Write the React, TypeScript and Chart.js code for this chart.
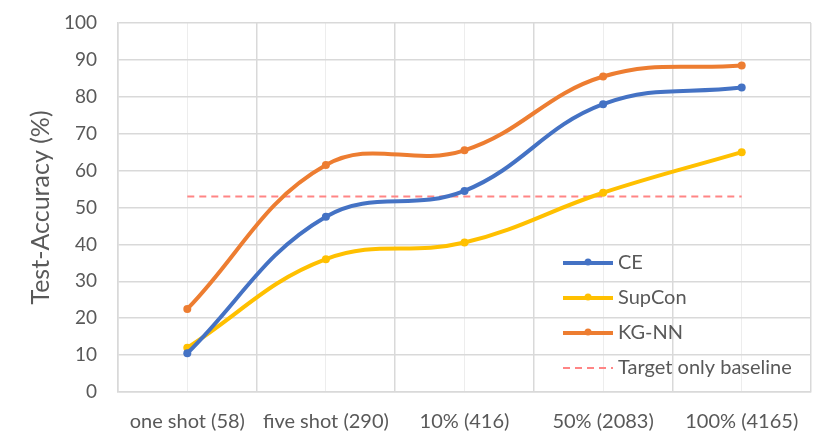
import { useEffect, useRef } from "react";
import { Chart, registerables, Plugin } from "chart.js";

Chart.register(...registerables);

// values
const categories = ["one shot (58)", "five shot (290)", "10% (416)", "50% (2083)", "100% (4165)"];
const ceValues = [10.5, 47.5, 54.5, 78, 82.5];
const supConValues = [12, 36, 40.5, 54, 65];
const kgnnValues = [22.5, 61.5, 65.5, 85.5, 88.5];
const baselineValue = 53;
const yTicks = [0, 10, 20, 30, 40, 50, 60, 70, 80, 90, 100];

const FONT = "Lato, 'Liberation Sans', sans-serif";
const TEXT = "#595959";
const GRID = "#d9d9d9";
const GRID_LIGHT = "#ededed";

const asPoints = (vals: number[]) => vals.map((y, i) => ({ x: i, y }));

const series = [
  { label: "CE", values: ceValues, color: "#4472C4" },
  { label: "SupCon", values: supConValues, color: "#FFC000" },
  { label: "KG-NN", values: kgnnValues, color: "#ED7D31" },
];

// Excel-style legend sitting inside the plot, lower right
const insideLegend: Plugin = {
  id: "insideLegend",
  afterDraw(chart) {
    const { ctx, chartArea } = chart;
    const x0 = chartArea.right - 248;
    const y0 = chartArea.bottom - 129;
    const rowGap = 35;
    ctx.save();
    ctx.font = `20px ${FONT}`;
    ctx.textBaseline = "middle";
    chart.data.datasets.forEach((ds: any, i) => {
      const y = y0 + i * rowGap;
      ctx.strokeStyle = ds.borderColor;
      ctx.lineWidth = ds.borderWidth;
      ctx.setLineDash(ds.borderDash || []);
      ctx.beginPath();
      ctx.moveTo(x0, y);
      ctx.lineTo(x0 + 50, y);
      ctx.stroke();
      ctx.setLineDash([]);
      if (ds.pointRadius > 0) {
        ctx.fillStyle = ds.borderColor;
        ctx.beginPath();
        ctx.arc(x0 + 25, y - 1, 3.5, 0, Math.PI * 2);
        ctx.fill();
      }
      ctx.fillStyle = TEXT;
      ctx.fillText(ds.label, x0 + 55, y);
    });
    ctx.restore();
  },
};

export default function App() {
  const canvasRef = useRef<HTMLCanvasElement | null>(null);

  useEffect(() => {
    document.body.style.margin = "0";
    if (!canvasRef.current) return;
    const chart = new Chart(canvasRef.current, {
      type: "line",
      data: {
        datasets: [
          ...series.map((s) => ({
            label: s.label,
            data: asPoints(s.values),
            borderColor: s.color,
            backgroundColor: s.color,
            borderWidth: 4,
            pointRadius: 4,
            pointBorderWidth: 0,
            tension: 0.4,
            fill: false,
          })),
          {
            label: "Target only baseline",
            data: asPoints(categories.map(() => baselineValue)),
            borderColor: "#FF8585",
            backgroundColor: "#FF8585",
            borderWidth: 2,
            borderDash: [7, 5],
            pointRadius: 0,
            tension: 0,
            fill: false,
          },
        ],
      },
      options: {
        animation: false,
        responsive: false,
        layout: { padding: { top: 23, right: 19, left: 0, bottom: 0 } },
        plugins: { legend: { display: false }, tooltip: { enabled: false } },
        scales: {
          x: {
            type: "linear",
            min: -0.5,
            max: categories.length - 0.5,
            afterBuildTicks: (axis) => {
              const t = [];
              for (let v = -0.5; v <= categories.length - 0.5 + 1e-9; v += 0.5) t.push({ value: v });
              axis.ticks = t;
            },
            afterFit: (axis) => {
              axis.height = 53;
            },
            grid: {
              color: (c) => (Number.isInteger(c.tick?.value) ? GRID_LIGHT : GRID),
              lineWidth: (c) => (Number.isInteger(c.tick?.value) ? 1 : 1.5),
              drawTicks: false,
            },
            border: { color: GRID, width: 1.5 },
            ticks: {
              autoSkip: false,
              maxRotation: 0,
              padding: 18,
              color: TEXT,
              font: { family: FONT, size: 20 },
              callback: (v) => (Number.isInteger(v) ? categories[v as number] : ""),
            },
          },
          y: {
            min: 0,
            max: 100,
            afterBuildTicks: (axis) => {
              axis.ticks = yTicks.map((v) => ({ value: v }));
            },
            afterFit: (axis) => {
              axis.width = 118;
            },
            // invisible tick marks push the labels off the axis line
            grid: { color: GRID, lineWidth: 1.5, drawTicks: true, tickLength: 21, tickColor: "rgba(0,0,0,0)" },
            border: { color: GRID, width: 1.5 },
            ticks: {
              padding: 0,
              color: TEXT,
              font: { family: FONT, size: 19 },
            },
            title: {
              display: true,
              text: "Test-Accuracy (%)",
              color: TEXT,
              font: { family: FONT, size: 25 },
              padding: { top: 26, bottom: 0 },
            },
          },
        },
      },
      plugins: [insideLegend],
    });
    return () => chart.destroy();
  }, []);

  return (
    <div style={{ width: 830, height: 445, background: "#fff" }}>
      <canvas ref={canvasRef} width={830} height={445} />
    </div>
  );
}
